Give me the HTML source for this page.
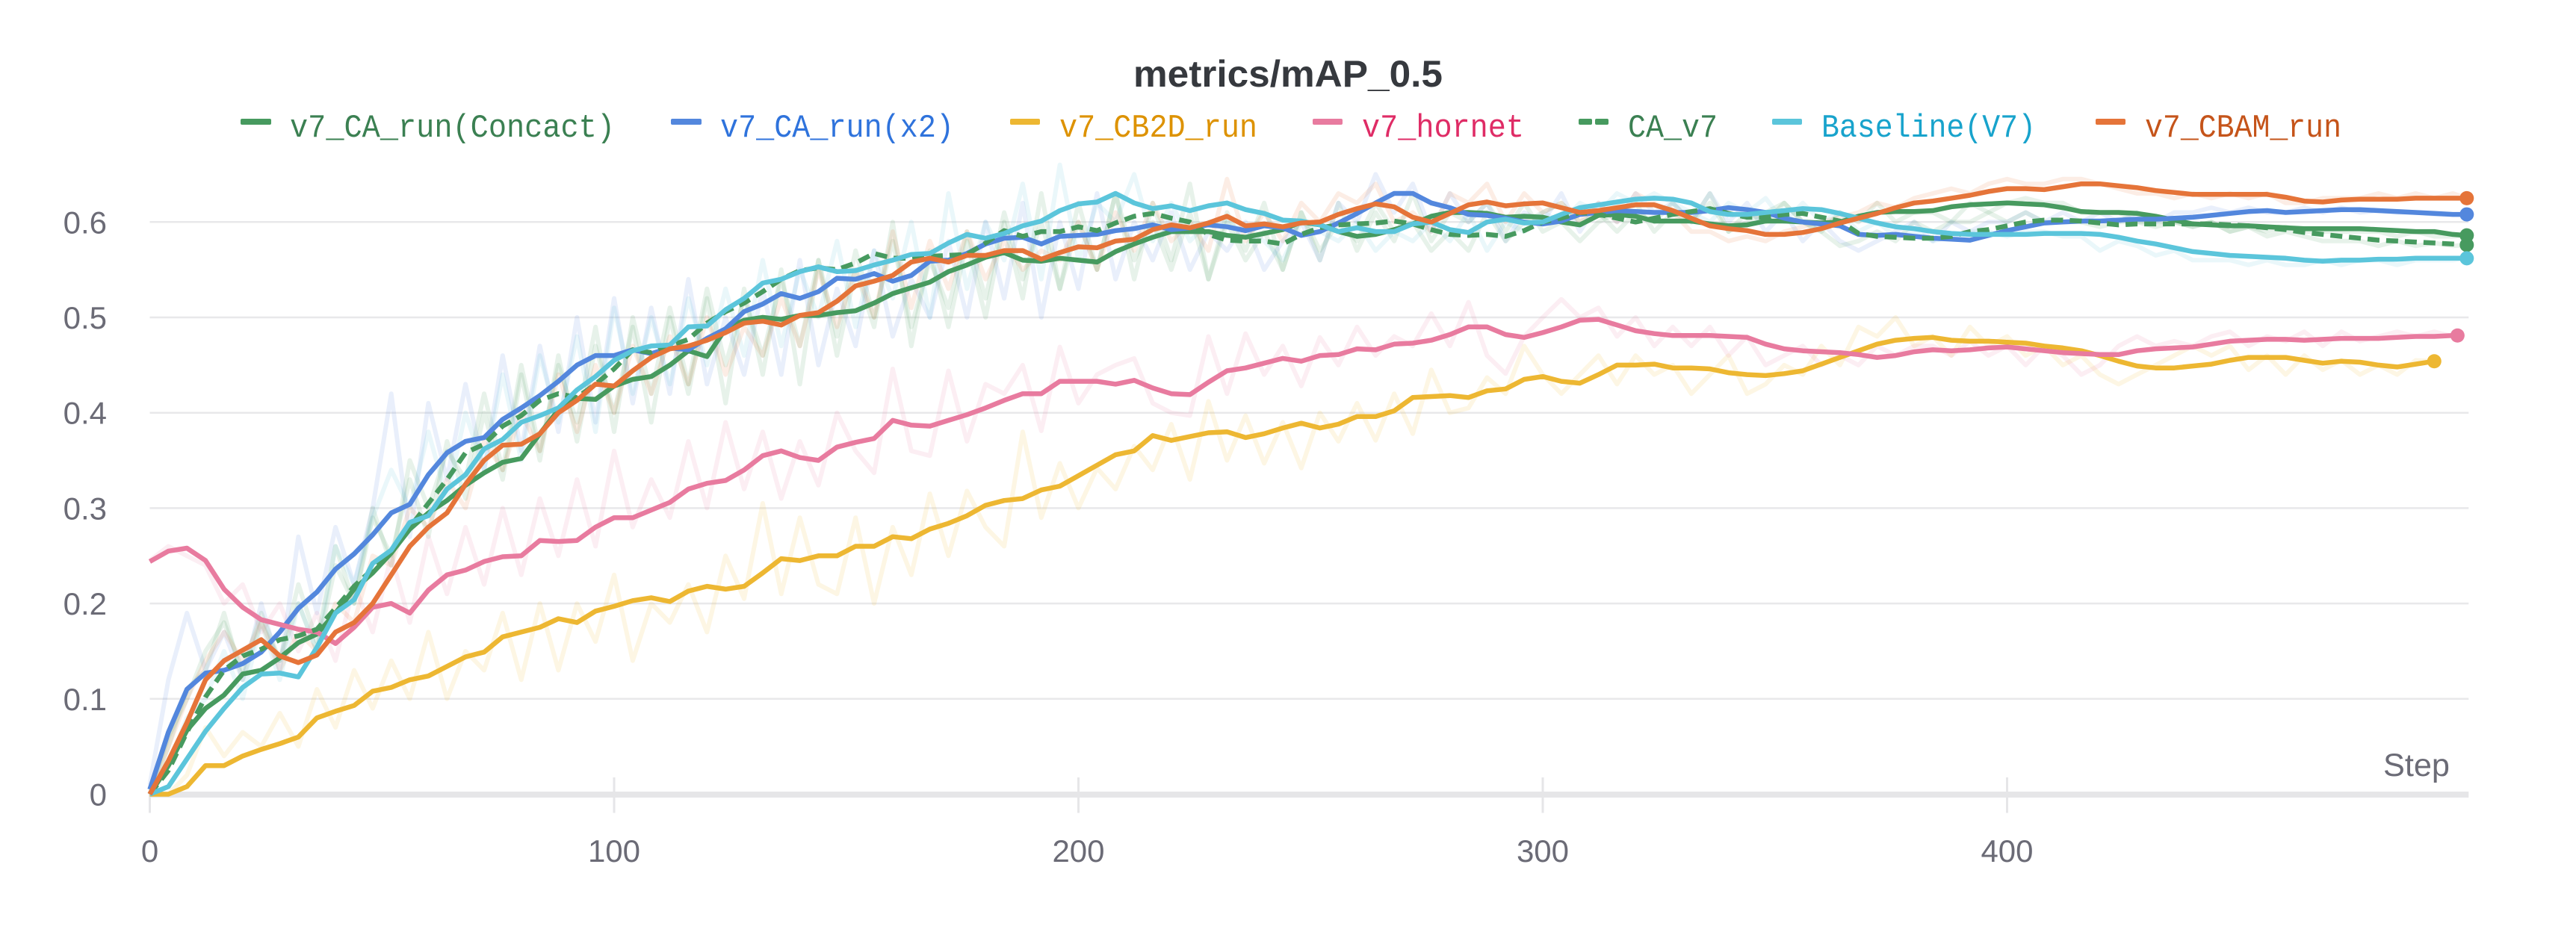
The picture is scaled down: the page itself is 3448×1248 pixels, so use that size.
<!DOCTYPE html>
<html lang="en">
<head>
<meta charset="utf-8">
<title>metrics/mAP_0.5</title>
<style>
html,body{margin:0;padding:0;background:#fff;}
svg{display:block;}
text{font-family:"Liberation Sans",sans-serif;}
.tick{font-size:42px;fill:#6b6b76;}
.leg{font-family:"Liberation Mono",monospace;font-size:44px;}
</style>
</head>
<body>
<svg id="chart" xmlns="http://www.w3.org/2000/svg" width="3448" height="1248" viewBox="0 0 3448 1248">
  <rect x="0" y="0" width="3448" height="1248" fill="#ffffff"/>
  <text x="1517" y="116" font-size="50" font-weight="700" fill="#36393e" textLength="414" lengthAdjust="spacingAndGlyphs">metrics/mAP_0.5</text>
  <g>
    <g>
      <rect x="322" y="159" width="41" height="8" rx="2" fill="#479A5F"/>
      <text class="leg" x="388" y="183" fill="#3b8052" textLength="435" lengthAdjust="spacingAndGlyphs">v7_CA_run(Concact)</text>
    </g>
    <g>
      <rect x="898" y="159" width="41" height="8" rx="2" fill="#5387DD"/>
      <text class="leg" x="964" y="183" fill="#2f73dc" textLength="313" lengthAdjust="spacingAndGlyphs">v7_CA_run(x2)</text>
    </g>
    <g>
      <rect x="1352" y="159" width="40" height="8" rx="2" fill="#EDB732"/>
      <text class="leg" x="1418" y="183" fill="#dd9200" textLength="265" lengthAdjust="spacingAndGlyphs">v7_CB2D_run</text>
    </g>
    <g>
      <rect x="1757" y="159" width="40" height="8" rx="2" fill="#E87B9F"/>
      <text class="leg" x="1823" y="183" fill="#df2c66" textLength="217" lengthAdjust="spacingAndGlyphs">v7_hornet</text>
    </g>
    <g>
      <rect x="2113" y="159" width="18" height="8" rx="2" fill="#479A5F"/>
      <rect x="2135" y="159" width="18" height="8" rx="2" fill="#479A5F"/>
      <text class="leg" x="2179" y="183" fill="#3b8052" textLength="120" lengthAdjust="spacingAndGlyphs">CA_v7</text>
    </g>
    <g>
      <rect x="2372" y="159" width="40" height="8" rx="2" fill="#5BC5DB"/>
      <text class="leg" x="2438" y="183" fill="#18a3cc" textLength="287" lengthAdjust="spacingAndGlyphs">Baseline(V7)</text>
    </g>
    <g>
      <rect x="2805" y="159" width="40" height="8" rx="2" fill="#E57439"/>
      <text class="leg" x="2871" y="183" fill="#c5541a" textLength="263" lengthAdjust="spacingAndGlyphs">v7_CBAM_run</text>
    </g>
  </g>
  <g id="grid"></g>
  <g id="axes"></g>
  <g id="rawLines"></g>
  <g id="smoothLines"></g>
  <text x="3190" y="1039" font-size="43" fill="#6b6b76" textLength="89" lengthAdjust="spacingAndGlyphs">Step</text>
</svg>
<script>
const stepInterval = 4;
const xTicks = [0, 100, 200, 300, 400];
const yTicks = [0, 0.1, 0.2, 0.3, 0.4, 0.5, 0.6];
const yTickLabels = ['0', '0.1', '0.2', '0.3', '0.4', '0.5', '0.6'];

const valuesConcact = [0,.03,.067,.09,.104,.126,.13,.143,.159,.168,.19,.215,.232,.253,.278,.295,.308,.324,.337,.348,.352,.378,.403,.415,.414,.428,.435,.438,.45,.465,.459,.488,.497,.5,.498,.502,.502,.505,.507,.515,.525,.531,.537,.548,.555,.563,.568,.56,.559,.562,.56,.558,.569,.577,.584,.59,.59,.59,.586,.584,.588,.592,.6,.597,.59,.585,.587,.592,.598,.606,.61,.61,.609,.605,.606,.605,.6,.597,.607,.608,.606,.601,.601,.601,.598,.596,.597,.601,.601,.6,.599,.6,.606,.61,.611,.611,.612,.616,.618,.619,.62,.619,.618,.615,.611,.61,.61,.609,.606,.602,.598,.597,.596,.596,.595,.594,.593,.593,.593,.593,.592,.591,.59,.59,.587,.586];
const valuesX2 = [.005,.065,.11,.127,.13,.137,.149,.17,.195,.212,.236,.252,.272,.295,.304,.335,.358,.37,.374,.393,.405,.418,.433,.45,.46,.46,.466,.462,.468,.466,.478,.488,.506,.514,.525,.52,.527,.541,.54,.546,.538,.544,.559,.56,.567,.577,.583,.584,.577,.585,.586,.587,.591,.593,.597,.592,.594,.597,.595,.591,.596,.594,.586,.59,.599,.609,.62,.63,.63,.62,.615,.608,.607,.604,.6,.598,.601,.608,.61,.612,.611,.61,.61,.61,.612,.615,.613,.61,.604,.6,.598,.596,.587,.586,.587,.585,.583,.582,.581,.586,.591,.595,.599,.6,.601,.601,.602,.603,.603,.604,.605,.607,.609,.611,.612,.61,.611,.612,.613,.613,.612,.611,.61,.609,.608,.608];
const valuesCB2D = [0,0,.008,.03,.03,.04,.047,.053,.06,.08,.087,.093,.108,.112,.12,.124,.134,.144,.149,.165,.17,.175,.184,.18,.192,.197,.203,.206,.202,.213,.218,.215,.218,.232,.247,.245,.25,.25,.26,.26,.27,.268,.278,.284,.292,.303,.308,.31,.319,.323,.334,.345,.356,.36,.376,.371,.375,.379,.38,.374,.378,.384,.389,.384,.388,.396,.396,.402,.416,.417,.418,.416,.423,.425,.435,.438,.433,.431,.44,.45,.45,.451,.447,.447,.446,.442,.44,.439,.441,.444,.451,.458,.465,.472,.476,.478,.479,.476,.475,.475,.474,.473,.47,.468,.465,.46,.454,.449,.447,.447,.449,.451,.455,.458,.458,.458,.455,.452,.454,.453,.45,.448,.451,.454];
const valuesHornet = [.244,.255,.258,.245,.215,.196,.183,.178,.173,.17,.158,.175,.196,.2,.19,.214,.23,.235,.244,.249,.25,.266,.265,.266,.28,.29,.29,.298,.306,.32,.326,.329,.34,.355,.36,.353,.35,.364,.369,.373,.392,.387,.386,.392,.398,.405,.413,.42,.42,.433,.433,.433,.43,.434,.426,.42,.419,.432,.444,.447,.452,.457,.454,.46,.461,.467,.466,.472,.473,.476,.482,.49,.49,.482,.479,.484,.49,.497,.498,.492,.486,.483,.481,.481,.481,.48,.479,.472,.467,.465,.464,.463,.461,.458,.46,.464,.466,.465,.466,.468,.469,.467,.465,.463,.462,.461,.461,.465,.467,.468,.469,.472,.475,.476,.477,.477,.476,.477,.478,.478,.478,.479,.48,.48,.481,.481];
const valuesCAv7 = [0,.025,.065,.102,.13,.145,.152,.162,.166,.173,.195,.218,.236,.254,.28,.305,.33,.358,.367,.386,.397,.413,.42,.416,.43,.446,.466,.463,.47,.477,.494,.506,.515,.527,.54,.549,.552,.55,.557,.567,.562,.562,.564,.565,.566,.578,.591,.585,.59,.59,.595,.591,.599,.606,.609,.604,.6,.587,.581,.58,.58,.577,.587,.594,.597,.598,.599,.601,.598,.592,.587,.586,.587,.585,.591,.6,.604,.61,.608,.604,.6,.604,.608,.611,.614,.609,.605,.605,.608,.609,.605,.601,.588,.585,.584,.583,.583,.585,.59,.592,.596,.6,.602,.602,.601,.599,.597,.598,.598,.598,.598,.598,.597,.596,.594,.592,.589,.587,.585,.583,.581,.58,.579,.578,.577,.576];
const valuesBaseline = [0,.008,.037,.066,.09,.112,.126,.127,.123,.154,.19,.204,.242,.256,.285,.292,.32,.335,.362,.372,.39,.397,.405,.424,.438,.455,.465,.47,.471,.49,.491,.508,.52,.536,.54,.548,.553,.548,.549,.555,.56,.566,.567,.578,.587,.583,.588,.596,.601,.612,.619,.621,.63,.62,.614,.617,.612,.617,.62,.613,.609,.602,.601,.597,.59,.594,.59,.59,.598,.6,.592,.589,.6,.603,.599,.6,.608,.615,.618,.621,.624,.625,.624,.62,.611,.608,.608,.61,.612,.614,.613,.609,.604,.599,.595,.593,.59,.588,.587,.587,.587,.587,.588,.588,.588,.587,.584,.58,.577,.573,.569,.567,.565,.564,.563,.562,.56,.559,.56,.56,.561,.561,.562,.562,.562,.562];
const valuesCBAM = [0,.035,.075,.12,.14,.151,.162,.145,.138,.146,.17,.18,.2,.23,.26,.28,.295,.325,.35,.366,.367,.378,.4,.413,.43,.428,.444,.458,.467,.47,.476,.484,.494,.496,.492,.502,.505,.517,.533,.538,.544,.558,.562,.558,.565,.565,.57,.57,.561,.568,.574,.573,.58,.582,.592,.597,.594,.599,.606,.596,.598,.595,.599,.6,.608,.614,.619,.616,.605,.6,.609,.618,.621,.617,.619,.62,.615,.61,.612,.615,.618,.618,.612,.604,.596,.593,.591,.587,.587,.589,.593,.599,.604,.609,.615,.62,.622,.625,.628,.632,.635,.635,.634,.637,.64,.64,.638,.636,.633,.631,.629,.629,.629,.629,.629,.626,.622,.621,.623,.624,.624,.624,.625,.625,.625,.625];

const rawConcact = [0,.05,.11,.13,.19,.12,.18,.14,.2,.15,.24,.2,.29,.25,.33,.27,.37,.31,.4,.33,.44,.35,.46,.37,.47,.4,.49,.39,.5,.42,.52,.41,.53,.44,.55,.43,.56,.46,.55,.49,.6,.47,.57,.49,.58,.5,.6,.52,.63,.53,.6,.55,.63,.54,.62,.56,.64,.54,.61,.57,.62,.55,.61,.56,.62,.57,.61,.58,.63,.58,.61,.6,.62,.59,.62,.59,.6,.58,.6,.61,.62,.59,.61,.6,.62,.59,.6,.61,.62,.6,.59,.61,.6,.62,.6,.61,.61,.6,.62,.61,.62,.625,.62,.62,.61,.61,.61,.6,.6,.6,.595,.6,.59,.595,.59,.595,.59,.59,.59,.59,.59,.585,.59,.585,.585,.586];
const rawX2 = [.01,.12,.19,.13,.17,.12,.2,.13,.27,.19,.28,.22,.3,.42,.27,.41,.33,.43,.34,.46,.36,.47,.38,.5,.39,.52,.41,.51,.42,.54,.43,.5,.44,.53,.44,.56,.45,.53,.47,.57,.48,.54,.5,.58,.5,.6,.52,.62,.5,.6,.53,.63,.54,.6,.56,.61,.55,.59,.57,.6,.55,.58,.6,.56,.62,.6,.65,.61,.64,.59,.63,.6,.62,.58,.61,.6,.63,.59,.62,.6,.63,.61,.62,.6,.63,.6,.62,.59,.61,.58,.6,.58,.57,.58,.59,.6,.58,.6,.59,.6,.6,.61,.6,.61,.6,.61,.6,.61,.6,.61,.61,.615,.61,.615,.61,.61,.615,.61,.615,.61,.612,.61,.61,.608,.608,.608];
const rawCB2D = [0,0,.02,.07,.04,.065,.05,.085,.05,.11,.07,.13,.09,.14,.1,.17,.1,.15,.13,.19,.12,.2,.13,.2,.16,.23,.14,.2,.18,.22,.17,.25,.205,.305,.21,.29,.22,.21,.29,.2,.28,.23,.315,.25,.318,.28,.26,.38,.29,.347,.3,.342,.32,.365,.34,.388,.33,.412,.35,.397,.347,.39,.342,.4,.37,.41,.371,.42,.378,.445,.4,.405,.437,.42,.47,.44,.42,.44,.46,.43,.46,.44,.45,.42,.44,.46,.42,.43,.45,.44,.47,.45,.49,.48,.5,.47,.48,.46,.49,.47,.48,.46,.47,.45,.46,.44,.43,.44,.45,.46,.47,.46,.47,.445,.46,.44,.46,.445,.455,.44,.45,.44,.455,.454];
const rawHornet = [.245,.26,.25,.24,.2,.22,.17,.2,.15,.19,.14,.22,.17,.25,.18,.27,.21,.28,.22,.3,.23,.31,.25,.33,.26,.36,.28,.33,.29,.37,.3,.39,.32,.38,.31,.37,.324,.4,.36,.337,.446,.36,.355,.444,.37,.43,.42,.45,.381,.469,.41,.44,.45,.457,.41,.4,.397,.48,.42,.483,.44,.47,.428,.479,.45,.49,.46,.48,.47,.504,.47,.516,.46,.441,.48,.5,.519,.5,.51,.48,.5,.47,.49,.47,.49,.46,.48,.45,.46,.47,.45,.46,.45,.47,.46,.47,.47,.46,.475,.46,.47,.45,.47,.46,.44,.45,.47,.48,.47,.475,.47,.48,.485,.47,.48,.475,.485,.47,.485,.475,.48,.485,.48,.485,.48,.481];
const rawCAv7 = [0,.06,.1,.15,.18,.13,.19,.14,.22,.16,.26,.2,.3,.24,.35,.3,.36,.33,.42,.34,.45,.36,.45,.39,.49,.38,.5,.42,.51,.43,.53,.45,.52,.46,.54,.47,.56,.48,.57,.5,.58,.49,.56,.51,.59,.52,.61,.54,.6,.53,.62,.55,.63,.56,.6,.55,.61,.54,.6,.56,.59,.55,.61,.57,.6,.58,.62,.59,.6,.57,.59,.57,.61,.58,.6,.61,.62,.6,.61,.59,.61,.6,.62,.6,.63,.59,.61,.6,.62,.6,.59,.575,.58,.59,.58,.6,.59,.6,.6,.61,.6,.61,.6,.6,.6,.595,.6,.6,.595,.6,.595,.6,.59,.595,.585,.59,.585,.58,.58,.58,.575,.58,.575,.578,.575,.576];
const rawBaseline = [0,.03,.08,.1,.15,.1,.18,.12,.2,.15,.26,.22,.29,.34,.3,.38,.31,.4,.34,.44,.35,.46,.39,.48,.38,.51,.42,.5,.43,.52,.45,.53,.46,.56,.47,.55,.5,.58,.49,.57,.52,.6,.5,.63,.53,.6,.56,.64,.54,.66,.56,.62,.6,.65,.58,.62,.58,.6,.6,.59,.58,.56,.6,.59,.58,.6,.57,.59,.58,.6,.58,.61,.57,.6,.59,.61,.6,.62,.61,.63,.62,.63,.62,.61,.6,.62,.61,.625,.6,.62,.6,.61,.59,.6,.585,.59,.58,.585,.59,.59,.585,.59,.59,.585,.585,.57,.58,.575,.565,.57,.56,.56,.56,.555,.56,.555,.555,.56,.555,.56,.56,.555,.56,.56,.56,.562];
const rawCBAM = [0,.05,.1,.14,.17,.14,.18,.13,.17,.15,.2,.18,.25,.24,.3,.28,.33,.3,.37,.34,.4,.36,.44,.38,.45,.4,.47,.42,.48,.43,.5,.44,.49,.46,.52,.47,.55,.49,.55,.5,.59,.51,.58,.53,.59,.54,.58,.55,.57,.56,.6,.55,.61,.57,.62,.58,.6,.57,.645,.58,.61,.58,.62,.6,.63,.62,.64,.6,.61,.59,.63,.62,.64,.6,.63,.61,.62,.6,.62,.6,.63,.62,.61,.59,.59,.58,.585,.58,.59,.595,.6,.605,.61,.62,.615,.625,.63,.635,.63,.64,.645,.64,.64,.645,.645,.64,.635,.63,.63,.625,.63,.625,.63,.625,.63,.62,.62,.625,.625,.625,.63,.625,.63,.625,.63,.625];

const runName = ['concact', 'x2', 'cb2d', 'hornet', 'ca-v7', 'baseline', 'cbam'];
const runColor = ['#479A5F', '#5387DD', '#EDB732', '#E87B9F', '#479A5F', '#5BC5DB', '#E57439'];
const runEndStep = [499, 499, 492, 497, 499, 499, 499];
const runDash = ['', '', '', '', '16 9', '', ''];
const runValues = [valuesConcact, valuesX2, valuesCB2D, valuesHornet, valuesCAv7, valuesBaseline, valuesCBAM];
const runRaw = [rawConcact, rawX2, rawCB2D, rawHornet, rawCAv7, rawBaseline, rawCBAM];

const NS = 'http://www.w3.org/2000/svg';
function xPx(step) { return 200.5 + 6.215 * step; }
function yPx(value) { return 1063.5 - 1277 * value; }
function svgEl(tag, attrs, parent) {
  const el = document.createElementNS(NS, tag);
  for (const k in attrs) el.setAttribute(k, attrs[k]);
  parent.appendChild(el);
  return el;
}
function pointsFor(values, endStep) {
  return values.map(function (v, i) {
    return xPx(Math.min(i * stepInterval, endStep)).toFixed(1) + ',' + yPx(v).toFixed(1);
  }).join(' ');
}

const gridG = document.getElementById('grid');
const axesG = document.getElementById('axes');
const rawG = document.getElementById('rawLines');
const smoothG = document.getElementById('smoothLines');
const axisEnd = xPx(499.4);

yTicks.forEach(function (t, i) {
  if (t > 0) {
    const line = svgEl('line', { x1: xPx(0), x2: axisEnd, y1: yPx(t), y2: yPx(t), stroke: '#e8e8ea', 'stroke-width': 2.5 }, gridG);
    
    
  }
  const label = svgEl('text', { x: 143, y: yPx(t) + 15, 'text-anchor': 'end', class: 'tick' }, axesG);
  label.textContent = yTickLabels[i];
  
  
});

const axisBand = svgEl('rect', { x: xPx(0), y: 1060, width: axisEnd - xPx(0), height: 8, fill: '#e6e6e8' }, axesG);



xTicks.forEach(function (t) {
  const tick = svgEl('rect', { x: xPx(t) - 1.5, y: t === 0 ? 1060 : 1041, width: 3, height: t === 0 ? 28.5 : 47.5, fill: '#e6e6e8' }, axesG);
  
  
  const label = svgEl('text', { x: xPx(t), y: 1154, 'text-anchor': 'middle', class: 'tick' }, axesG);
  label.textContent = String(t);
  
  
});

runRaw.forEach(function (values, r) {
  const line = svgEl('polyline', { points: pointsFor(values, runEndStep[r]), fill: 'none', stroke: runColor[r], 'stroke-width': 6, 'stroke-opacity': 0.13, 'stroke-linejoin': 'round' }, rawG);
  
  
});

runValues.forEach(function (values, r) {
  const line = svgEl('polyline', { points: pointsFor(values, runEndStep[r]), fill: 'none', stroke: runColor[r], 'stroke-width': 6.5, 'stroke-linejoin': 'round' }, smoothG);
  if (runDash[r]) line.setAttribute('stroke-dasharray', runDash[r]);
  
  
});

runValues.forEach(function (values, r) {
  const last = values.length - 1;
  const dot = svgEl('circle', { cx: xPx(Math.min(last * stepInterval, runEndStep[r])), cy: yPx(values[last]), r: 9.5, fill: runColor[r] }, smoothG);
  
  
});
</script>
</body>
</html>
